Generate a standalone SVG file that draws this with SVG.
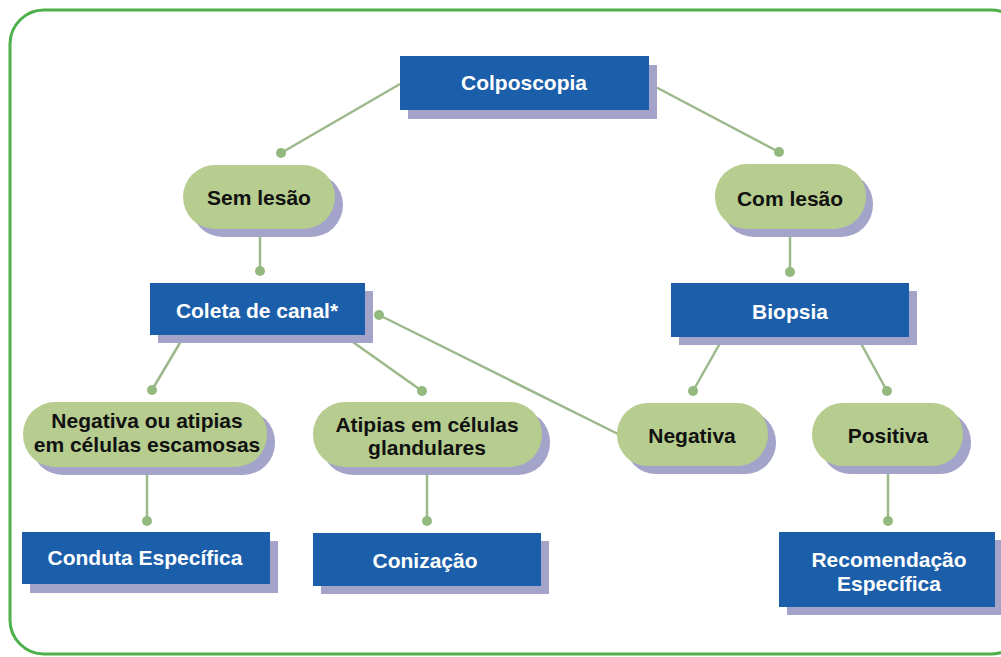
<svg xmlns="http://www.w3.org/2000/svg" width="1001" height="657" viewBox="0 0 1001 657">
<style>
.frame{fill:#fff;stroke:#4db04a;stroke-width:3}
.box{fill:#1b5eaa}
.sh{fill:#a4a3c9}
.pill{fill:#b6cd8f}
.tw{font-family:"Liberation Sans",Arial,sans-serif;font-weight:bold;font-size:21px;fill:#fff;text-anchor:middle}
.tb{font-family:"Liberation Sans",Arial,sans-serif;font-weight:bold;font-size:21px;fill:#111;text-anchor:middle}
.ln{stroke:#9db88a;stroke-width:2.5;fill:none}
.dot{fill:#93b97f}
</style>
<rect class="frame" x="10" y="10" width="1015" height="644" rx="34"/>
<g id="connectors">
<line class="ln" x1="400" y1="84" x2="281" y2="153"/><circle class="dot" cx="281" cy="153" r="5"/>
<line class="ln" x1="650" y1="84" x2="779" y2="152"/><circle class="dot" cx="779" cy="152" r="5"/>
<line class="ln" x1="260" y1="229" x2="260" y2="271"/><circle class="dot" cx="260" cy="271" r="5"/>
<line class="ln" x1="790" y1="229" x2="790" y2="272"/><circle class="dot" cx="790" cy="272" r="5"/>
<line class="ln" x1="184" y1="336" x2="152" y2="390"/><circle class="dot" cx="152" cy="390" r="5"/>
<line class="ln" x1="343" y1="335" x2="422" y2="391"/><circle class="dot" cx="422" cy="391" r="5"/>
<line class="ln" x1="379" y1="315" x2="618" y2="434"/>
<line class="ln" x1="723" y1="338" x2="693" y2="391"/><circle class="dot" cx="693" cy="391" r="5"/>
<line class="ln" x1="858" y1="338" x2="887" y2="391"/><circle class="dot" cx="887" cy="391" r="5"/>
<line class="ln" x1="147" y1="470" x2="147" y2="521"/><circle class="dot" cx="147" cy="521" r="5"/>
<line class="ln" x1="427" y1="470" x2="427" y2="521"/><circle class="dot" cx="427" cy="521" r="5"/>
<line class="ln" x1="888" y1="470" x2="888" y2="521"/><circle class="dot" cx="888" cy="521" r="5"/>
</g>
<g id="colposcopia">
<rect class="sh" x="408" y="65" width="249" height="54"/>
<rect class="box" x="400" y="56" width="249" height="54"/>
<text class="tw" x="524" y="90">Colposcopia</text>
</g>
<g id="sem-lesao">
<rect class="sh" x="191" y="173" width="152" height="64" rx="32"/>
<rect class="pill" x="183" y="165" width="152" height="64" rx="32"/>
<text class="tb" x="259" y="205">Sem lesão</text>
</g>
<g id="com-lesao">
<rect class="sh" x="722" y="172" width="151" height="65" rx="32"/>
<rect class="pill" x="715" y="164" width="151" height="65" rx="32"/>
<text class="tb" x="790" y="206">Com lesão</text>
</g>
<g id="coleta">
<rect class="sh" x="158" y="291" width="215" height="52"/>
<rect class="box" x="150" y="283" width="215" height="52"/>
<text class="tw" x="257" y="318">Coleta de canal*</text>
</g>
<circle class="dot" cx="379" cy="315" r="5"/>
<g id="biopsia">
<rect class="sh" x="679" y="291" width="238" height="54"/>
<rect class="box" x="671" y="283" width="238" height="54"/>
<text class="tw" x="790" y="319">Biopsia</text>
</g>
<g id="negativa-atipias">
<rect class="sh" x="31" y="410" width="244" height="65" rx="32"/>
<rect class="pill" x="23" y="402" width="244" height="65" rx="32"/>
<text class="tb" x="147" y="428">Negativa ou atipias</text>
<text class="tb" x="147" y="452">em células escamosas</text>
</g>
<g id="atipias-glandulares">
<rect class="sh" x="321" y="410" width="229" height="65" rx="32"/>
<rect class="pill" x="313" y="402" width="229" height="65" rx="32"/>
<text class="tb" x="427" y="432">Atipias em células</text>
<text class="tb" x="427" y="455">glandulares</text>
</g>
<g id="negativa">
<rect class="sh" x="625" y="411" width="151" height="63" rx="31"/>
<rect class="pill" x="617" y="403" width="151" height="63" rx="31"/>
<text class="tb" x="692" y="443">Negativa</text>
</g>
<g id="positiva">
<rect class="sh" x="820" y="411" width="151" height="63" rx="31"/>
<rect class="pill" x="812" y="403" width="151" height="63" rx="31"/>
<text class="tb" x="888" y="443">Positiva</text>
</g>
<g id="conduta">
<rect class="sh" x="30" y="541" width="248" height="52"/>
<rect class="box" x="22" y="532" width="248" height="52"/>
<text class="tw" x="145" y="565">Conduta Específica</text>
</g>
<g id="conizacao">
<rect class="sh" x="321" y="541" width="228" height="53"/>
<rect class="box" x="313" y="533" width="228" height="53"/>
<text class="tw" x="425" y="568">Conização</text>
</g>
<g id="recomendacao">
<rect class="sh" x="787" y="540" width="216" height="75"/>
<rect class="box" x="779" y="532" width="216" height="75"/>
<text class="tw" x="889" y="567">Recomendação</text>
<text class="tw" x="889" y="591">Específica</text>
</g>
</svg>
